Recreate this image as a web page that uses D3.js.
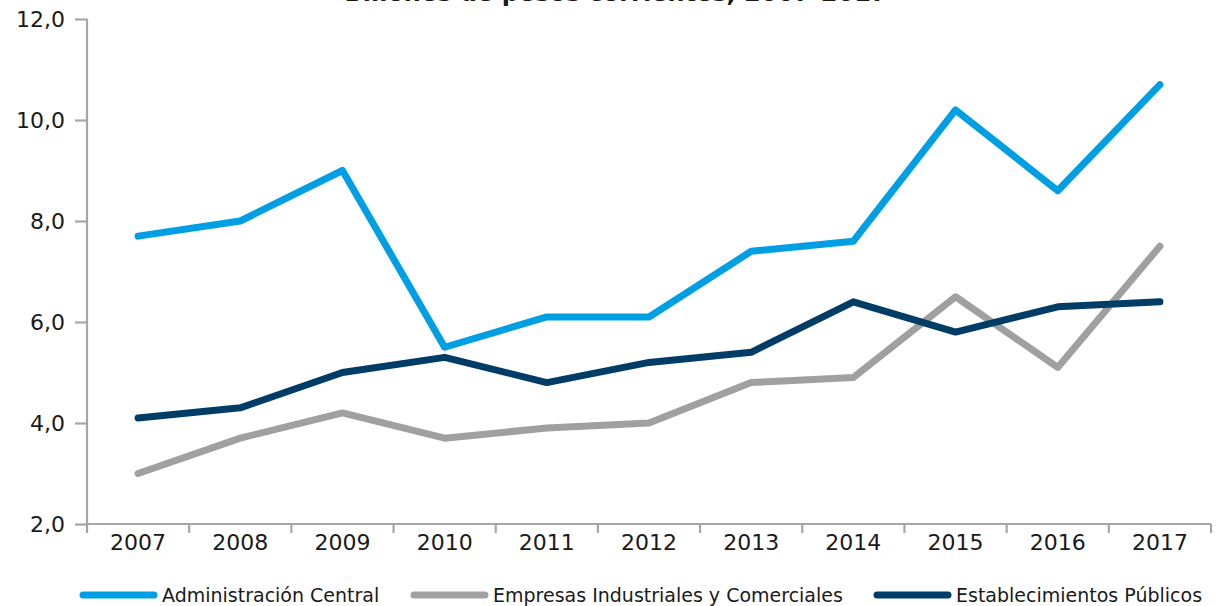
<!DOCTYPE html>
<html>
<head>
<meta charset="utf-8">
<script src="https://cdn.jsdelivr.net/npm/d3@7"></script>
<style>
  body { margin: 0; background: #fff; }
  svg text { font-family: "DejaVu Sans", sans-serif; fill: #1a1a1a; }
</style>
</head>
<body>
<div id="chart"></div>
<script>
// years on the x axis
var years = ["2007", "2008", "2009", "2010", "2011", "2012", "2013", "2014", "2015", "2016", "2017"];

// series values
var adminCentral = [7.7, 8.0, 9.0, 5.5, 6.1, 6.1, 7.4, 7.6, 10.2, 8.6, 10.7];
var empresas     = [3.0, 3.7, 4.2, 3.7, 3.9, 4.0, 4.8, 4.9, 6.5, 5.1, 7.5];
var establec     = [4.1, 4.3, 5.0, 5.3, 4.8, 5.2, 5.4, 6.4, 5.8, 6.3, 6.4];

var seriesNames = ["Administración Central", "Empresas Industriales y Comerciales", "Establecimientos Públicos"];
var yTicks = [2, 4, 6, 8, 10, 12];

var W = 1223, H = 606;
var margin = {top: 19, right: 12, bottom: 82, left: 87};

var series = [
    {name: seriesNames[0], values: adminCentral, color: "#009fe3"},
    {name: seriesNames[1], values: empresas, color: "#a0a0a0"},
    {name: seriesNames[2], values: establec, color: "#003d66"}
];

var svg = d3.select("#chart").append("svg")
    .attr("width", W)
    .attr("height", H);

var x = d3.scaleBand().domain(years).range([margin.left, W - margin.right]).padding(0),
    y = d3.scaleLinear().domain([2, 12]).range([H - margin.bottom, margin.top]);

// title, mostly cut off at the top of the picture
svg.append("text")
    .attr("x", 616)
    .attr("y", 1)
    .attr("text-anchor", "middle")
    .style("font-size", "24px")
    .style("font-weight", "bold")
    .text("Billones de pesos corrientes, 2007-2017");

// y axis
var yAxis = svg.append("g")
    .attr("transform", "translate(" + margin.left + ",0)")
    .call(d3.axisLeft(y).tickValues(yTicks).tickSize(12).tickPadding(10)
        .tickFormat(function(d) { return d3.format(".1f")(d).replace(".", ","); }));

// x axis, ticks between the categories
var xAxis = svg.append("g")
    .attr("transform", "translate(0," + y(2) + ")")
    .call(d3.axisBottom(x).tickSize(0).tickPadding(10));

xAxis.selectAll(".sep")
    .data(d3.range(years.length + 1))
    .enter().append("line")
    .attr("class", "sep")
    .attr("x1", function(i) { return margin.left + i * x.bandwidth(); })
    .attr("x2", function(i) { return margin.left + i * x.bandwidth(); })
    .attr("y1", 0)
    .attr("y2", 9);

svg.selectAll(".domain, .tick line, .sep")
    .attr("stroke", "#a6a6a6")
    .attr("stroke-width", 2.2);
yAxis.select(".domain").attr("d", "M0," + y(12) + "V" + y(2));
xAxis.select(".domain").attr("d", "M" + margin.left + ",0H" + (W - margin.right));
svg.selectAll(".tick text").style("font-size", "22px").attr("fill", "#1a1a1a");

// lines
var line = d3.line()
    .x(function(d, i) { return x(years[i]) + x.bandwidth() / 2; })
    .y(function(d) { return y(d); });

svg.selectAll(".series")
    .data(series)
    .enter().append("path")
    .attr("class", "series")
    .attr("fill", "none")
    .attr("stroke", function(d) { return d.color; })
    .attr("stroke-width", 7)
    .attr("stroke-linecap", "round")
    .attr("stroke-linejoin", "round")
    .attr("d", function(d) { return line(d.values); });

// legend
var legX = [80, 411, 874];
var leg = svg.selectAll(".leg")
    .data(series)
    .enter().append("g")
    .attr("class", "leg")
    .attr("transform", function(d, i) { return "translate(" + legX[i] + ",595)"; });

leg.append("line")
    .attr("x1", 3).attr("x2", 74)
    .attr("stroke", function(d) { return d.color; })
    .attr("stroke-width", 7)
    .attr("stroke-linecap", "round");

leg.append("text")
    .attr("x", 82)
    .attr("dy", "0.35em")
    .style("font-size", "19px")
    .text(function(d) { return d.name; });
</script>
</body>
</html>
